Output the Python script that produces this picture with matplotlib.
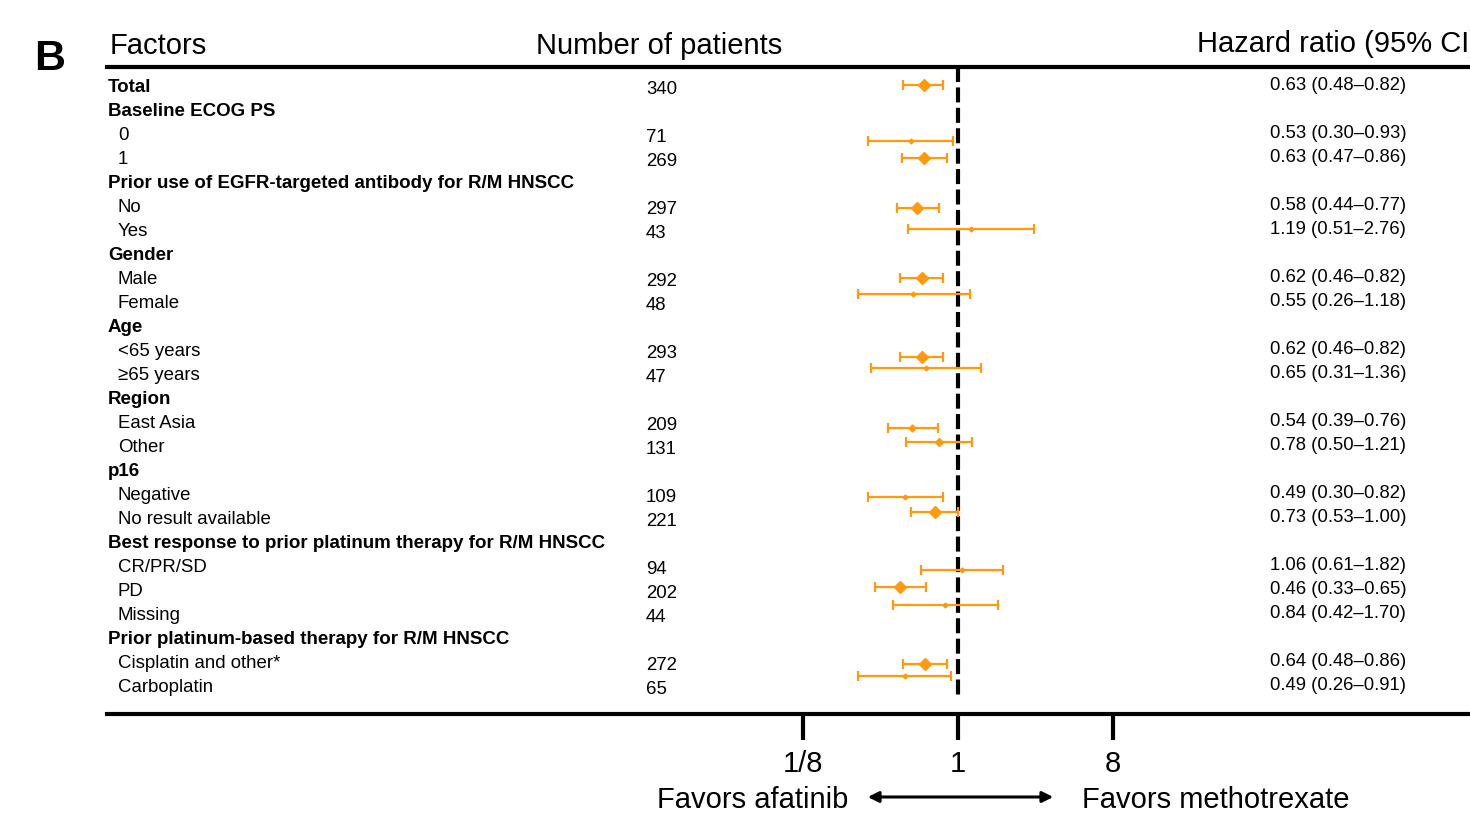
import matplotlib.pyplot as plt
from matplotlib.ticker import NullLocator

plt.rcParams['font.family'] = ['Liberation Sans', 'DejaVu Sans']

factors = ["Total", "Baseline ECOG PS", "0", "1",
           "Prior use of EGFR-targeted antibody for R/M HNSCC", "No", "Yes",
           "Gender", "Male", "Female", "Age", "<65 years", "\u226565 years",
           "Region", "East Asia", "Other", "p16", "Negative", "No result available",
           "Best response to prior platinum therapy for R/M HNSCC",
           "CR/PR/SD", "PD", "Missing",
           "Prior platinum-based therapy for R/M HNSCC",
           "Cisplatin and other*", "Carboplatin"]
is_header = [True, True, False, False, True, False, False, True, False, False,
             True, False, False, True, False, False, True, False, False, True,
             False, False, False, True, False, False]
patients = [340, None, 71, 269, None, 297, 43, None, 292, 48, None, 293, 47,
            None, 209, 131, None, 109, 221, None, 94, 202, 44, None, 272, 65]
hr = [0.63, None, 0.53, 0.63, None, 0.58, 1.19, None, 0.62, 0.55, None, 0.62, 0.65,
      None, 0.54, 0.78, None, 0.49, 0.73, None, 1.06, 0.46, 0.84, None, 0.64, 0.49]
ci_low = [0.48, None, 0.30, 0.47, None, 0.44, 0.51, None, 0.46, 0.26, None, 0.46, 0.31,
          None, 0.39, 0.50, None, 0.30, 0.53, None, 0.61, 0.33, 0.42, None, 0.48, 0.26]
ci_high = [0.82, None, 0.93, 0.86, None, 0.77, 2.76, None, 0.82, 1.18, None, 0.82, 1.36,
           None, 0.76, 1.21, None, 0.82, 1.00, None, 1.82, 0.65, 1.70, None, 0.86, 0.91]

# look of each marker (not data): marker size in points, vertical nudge in px
marker_size = [6, 0, 2.5, 6, 0, 6, 2.5, 0, 6, 2.5, 0, 6, 2.5,
               0, 3.5, 4.5, 0, 2.5, 6, 0, 2.5, 6, 2.5, 0, 6, 2.5]
marker_nudge = [-1, 0, 7, 0, 0, 2, -1, 0, 0, -8, 0, 7, -6,
                0, 6, -4, 0, 3, -6, 0, 4, -3, -9, 0, 2, -10]

W, H = 1470, 815
orange = '#FF9A0E'

fig = plt.figure(figsize=(W / 100, H / 100), dpi=100)

# background axes in pixel coordinates for text
bg = fig.add_axes([0, 0, 1, 1])
bg.set_xlim(0, W)
bg.set_ylim(H, 0)
bg.axis('off')

# forest axes: y in pixel units, x on log2 scale
left, right, top, bottom = 107, W, 67, 714
x_one, px_per_unit = 958, 51.67
ax = fig.add_axes([left / W, 1 - bottom / H, (right - left) / W, (bottom - top) / H])
ax.patch.set_alpha(0)
ax.set_xscale('log', base=2)
ax.set_xlim(2 ** ((left - x_one) / px_per_unit), 2 ** ((right - x_one) / px_per_unit))
ax.set_ylim(bottom, top)
for s in ['left', 'right']:
    ax.spines[s].set_visible(False)
ax.spines['top'].set_linewidth(3)
ax.spines['bottom'].set_linewidth(3)
ax.set_yticks([])
ax.set_xticks([1 / 8, 1, 8])
ax.set_xticklabels(['1/8', '1', '8'], fontsize=21)
ax.xaxis.set_minor_locator(NullLocator())
ax.tick_params(axis='x', direction='out', length=19, width=3, pad=7)

ax.vlines(1, top, 697, colors='black', linewidth=3, linestyles=(0, (3.6, 1.3)), zorder=1)

for i, name in enumerate(factors):
    y = 88 + 24 * i
    if is_header[i]:
        bg.text(108, y, name, fontsize=13.5, fontweight='bold', va='center', ha='left')
    else:
        bg.text(118, y, name, fontsize=13.4, va='center', ha='left')
    if patients[i] is not None:
        bg.text(646, y + 1.5, str(patients[i]), fontsize=13.4, va='center', ha='left')
        bg.text(1270, y - 2, f"{hr[i]:.2f} ({ci_low[i]:.2f}\u2013{ci_high[i]:.2f})",
                fontsize=13.3, va='center', ha='left')
        ym = y - 2 + marker_nudge[i]
        ax.errorbar(hr[i], ym, xerr=[[hr[i] - ci_low[i]], [ci_high[i] - hr[i]]],
                    fmt='D', color=orange, ms=marker_size[i], elinewidth=1.6,
                    capsize=3.5, capthick=1.6, zorder=3)

bg.text(34, 59, 'B', fontsize=31, fontweight='bold', va='center', ha='left')
bg.text(110, 46, 'Factors', fontsize=21, va='center', ha='left')
bg.text(536, 46, 'Number of patients', fontsize=21, va='center', ha='left')
bg.text(1197, 44, 'Hazard ratio (95% CI)', fontsize=21, va='center', ha='left')

bg.text(848, 800, 'Favors afatinib', fontsize=21, va='center', ha='right')
bg.text(1082, 800, 'Favors methotrexate', fontsize=21, va='center', ha='left')
bg.annotate('', xy=(1056, 797), xytext=(865, 797),
            arrowprops=dict(arrowstyle='<|-|>', lw=2.2, color='black', mutation_scale=16))

fig.savefig('out.png', dpi=100)
